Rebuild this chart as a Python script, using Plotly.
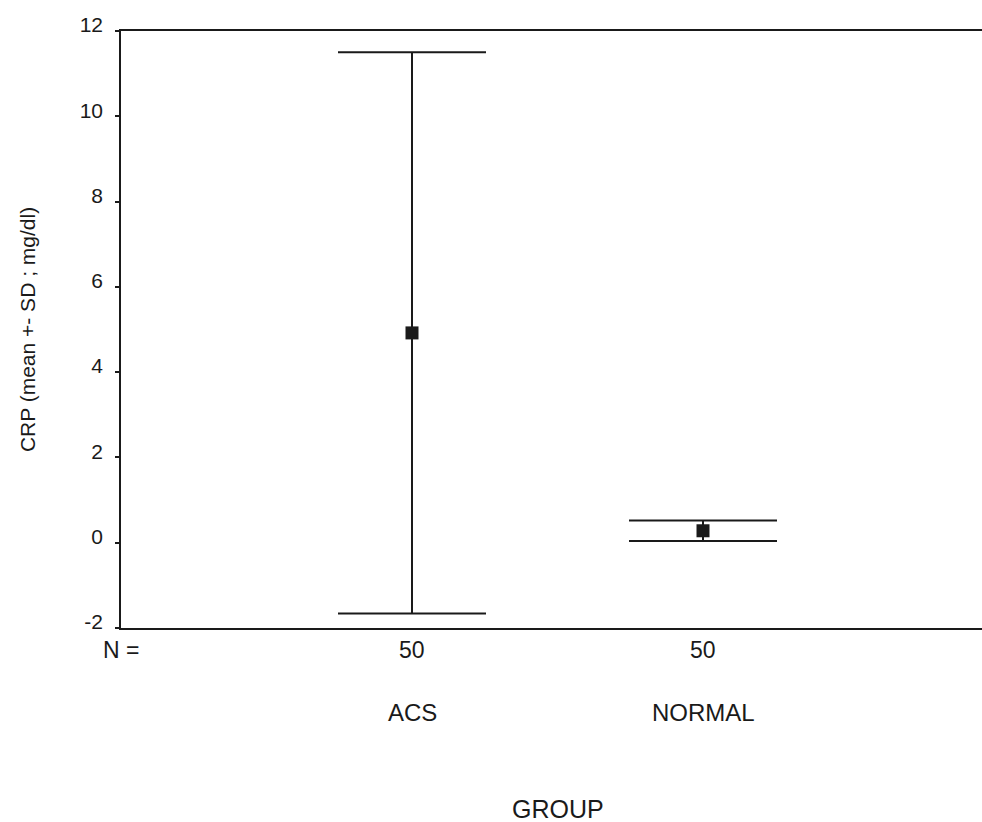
import plotly.graph_objects as go

categories = ["ACS", "NORMAL"]
n_values = [50, 50]
means = [4.92, 0.28]
sds = [6.58, 0.24]
y_ticks = [-2, 0, 2, 4, 6, 8, 10, 12]
y_tick_labels = ["-2", "0", "2", "4", "6", "8", "10", "12"]

x_pos = [i + 1 for i in range(len(categories))]
FONT = "Liberation Sans, Arial, sans-serif"
INK = "#1a1a1a"

fig = go.Figure()
fig.add_trace(go.Scatter(
    x=x_pos, y=means, mode="markers",
    marker=dict(symbol="square", size=13, color=INK),
    error_y=dict(type="data", array=sds, visible=True, color=INK, thickness=2, width=74),
    showlegend=False, hoverinfo="skip",
))

annotations = [
    dict(x=0, y=0, xref="x", yref="paper", text="N =", showarrow=False, yanchor="middle",
         yshift=-22, font=dict(size=23, color=INK, family=FONT))
]
for xp, cat, n in zip(x_pos, categories, n_values):
    annotations.append(dict(x=xp, y=0, xref="x", yref="paper", text=str(n), showarrow=False,
                            yanchor="middle", yshift=-22, font=dict(size=23, color=INK, family=FONT)))
    annotations.append(dict(x=xp, y=0, xref="x", yref="paper", text=cat, showarrow=False,
                            yanchor="middle", yshift=-84, font=dict(size=24, color=INK, family=FONT)))
annotations.append(dict(xref="x domain", x=(558 - 121) / 861, yref="paper", y=0, yanchor="middle",
                        yshift=-181, text="GROUP", showarrow=False,
                        font=dict(size=25, color=INK, family=FONT)))

fig.update_layout(
    width=982, height=822,
    margin=dict(l=121, r=0, t=31, b=194),
    paper_bgcolor="white", plot_bgcolor="white",
    font=dict(family=FONT, color=INK, size=20),
    xaxis=dict(range=[0, 861 / 291], showgrid=False, zeroline=False, showticklabels=False,
               ticks="", showline=True, linecolor=INK, linewidth=2, mirror=True),
    yaxis=dict(range=[-2, 12], tickvals=y_ticks, ticktext=y_tick_labels,
               showgrid=False, zeroline=False,
               ticks="outside", ticklen=4, tickwidth=2, tickcolor=INK,
               showline=True, linecolor=INK, linewidth=1.5,
               tickfont=dict(size=21, color=INK, family=FONT), ticklabelshift=-6,
               ticklabelstandoff=8,
               title=dict(text="CRP (mean +- SD ; mg/dl)", font=dict(size=21, color=INK, family=FONT),
                          standoff=38)),
    annotations=annotations,
)

fig.write_html("out.html", config={"displayModeBar": False},
               post_script="document.body.style.margin='0';document.body.style.overflow='hidden';")
